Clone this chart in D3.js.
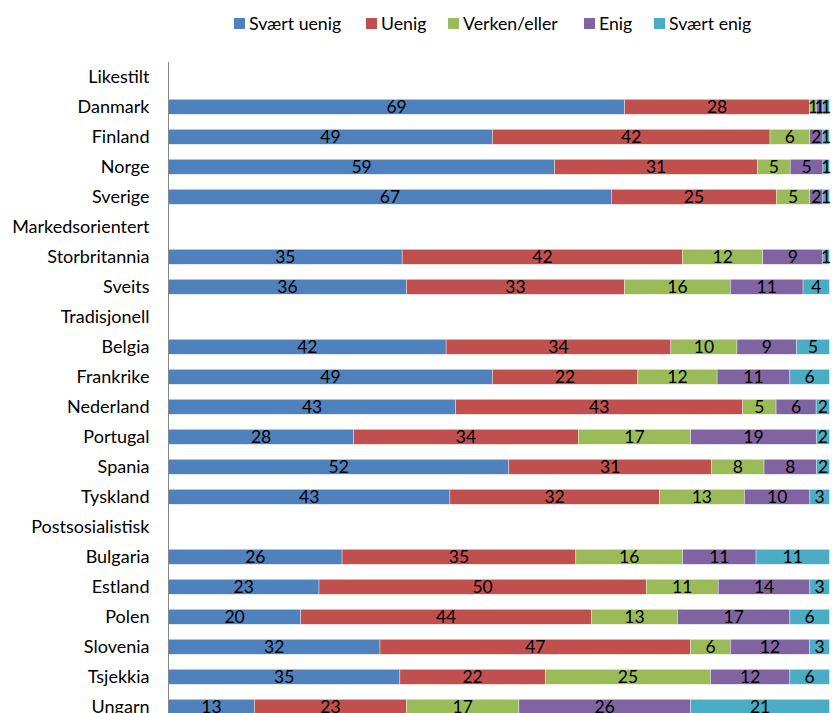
<!DOCTYPE html>
<html>
<head>
<meta charset="utf-8">
<script src="https://cdn.jsdelivr.net/npm/d3@7"></script>
<style>
  html, body { margin: 0; padding: 0; background: #fff; }
  svg { display: block; }
  text { font-family: Lato, "Liberation Sans", sans-serif; fill: #000; }
</style>
</head>
<body>
<svg id="chart" width="832" height="713"></svg>
<script>
const categories = ["Likestilt","Danmark","Finland","Norge","Sverige","Markedsorientert","Storbritannia","Sveits","Tradisjonell","Belgia","Frankrike","Nederland","Portugal","Spania","Tyskland","Postsosialistisk","Bulgaria","Estland","Polen","Slovenia","Tsjekkia","Ungarn"];
const seriesNames = ["Svært uenig","Uenig","Verken/eller","Enig","Svært enig"];
const colors = ["#4F81BD","#C0504D","#9BBB59","#8064A2","#4BACC6"];
// null = group header row (no bar)
const sværtUenig = [null,69,49,59,67,null,35,36,null,42,49,43,28,52,43,null,26,23,20,32,35,13];
const uenig      = [null,28,42,31,25,null,42,33,null,34,22,43,34,31,32,null,35,50,44,47,22,23];
const verken     = [null,1,6,5,5,null,12,16,null,10,12,5,17,8,13,null,16,11,13,6,25,17];
const enig       = [null,1,2,5,2,null,9,11,null,9,11,6,19,8,10,null,11,14,17,12,12,26];
const sværtEnig  = [null,1,1,1,1,null,1,4,null,5,6,2,2,2,3,null,11,3,6,3,6,21];

const seriesArrays = [sværtUenig, uenig, verken, enig, sværtEnig];
const table = categories.map((c, i) => {
  const row = { cat: c, header: sværtUenig[i] === null };
  seriesNames.forEach((s, k) => row[s] = seriesArrays[k][i] === null ? 0 : seriesArrays[k][i]);
  return row;
});

const svg = d3.select("#chart");
const x = d3.scaleLinear().domain([0, 1]).range([168.5, 829.5]);
const y = d3.scaleBand().domain(categories).range([61.8, 721.8]).paddingInner(0.5).paddingOuter(0.25);

const stack = d3.stack().keys(seriesNames).offset(d3.stackOffsetExpand);
const barRows = table.filter(d => !d.header);
const stacked = stack(barRows);

const g = svg.append("g");
stacked.forEach((layer, k) => {
  const lg = g.append("g");
  lg.selectAll("rect").data(layer).join("rect")
    .attr("x", d => x(d[0]))
    .attr("y", d => y(d.data.cat))
    .attr("width", d => x(d[1]) - x(d[0]))
    .attr("height", y.bandwidth())
    .attr("fill", colors[k])
    .attr("stroke", "#ffffff")
    .attr("stroke-opacity", 0.6)
    .attr("stroke-width", 0.6);
  lg.selectAll("text").data(layer).join("text")
    .attr("x", d => (x(d[0]) + x(d[1])) / 2)
    .attr("y", d => y(d.data.cat) + y.bandwidth() / 2)
    .attr("dy", "0.36em")
    .attr("text-anchor", "middle")
    .style("font-size", "17.5px")
    .text(d => d.data[layer.key]);
});

// category axis
const yAxis = d3.axisLeft(y).tickSize(0).tickPadding(19);
const ax = svg.append("g").attr("transform", "translate(168.5,0)").call(yAxis);
ax.select(".domain").attr("d", "M0,62V721.8").attr("stroke", "#868686").attr("stroke-width", 1);
ax.selectAll("text").style("font-size", "18px").style("font-family", "Lato, 'Liberation Sans', sans-serif");

// legend
const legendX = [234, 366, 448, 584, 654];
const lg = svg.append("g");
seriesNames.forEach((s, k) => {
  lg.append("rect").attr("x", legendX[k]).attr("y", 18).attr("width", 11).attr("height", 11).attr("fill", colors[k]);
  lg.append("text").attr("x", legendX[k] + 15).attr("y", 23.5).attr("dy", "0.36em")
    .style("font-size", "17.7px").text(s);
});
</script>
</body>
</html>
